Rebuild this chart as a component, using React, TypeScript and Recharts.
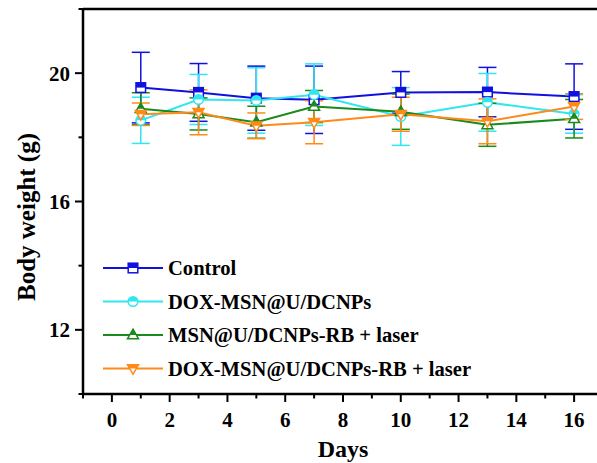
import { LineChart, Line, XAxis, YAxis, ErrorBar, ReferenceLine, Legend } from 'recharts'

const days = [1, 3, 5, 7, 10, 13, 16]

const control = [19.55, 19.4, 19.22, 19.17, 19.4, 19.41, 19.27]
const controlErr = [1.1, 0.9, 1.0, 1.05, 0.65, 0.77, 1.02]
const doxMsn = [18.53, 19.18, 19.15, 19.33, 18.65, 19.09, 18.73]
const doxMsnErr = [0.72, 0.78, 1.02, 0.96, 0.9, 0.9, 0.6]
const msnRb = [18.89, 18.73, 18.47, 18.96, 18.8, 18.39, 18.58]
const msnRbErr = [0.5, 0.5, 0.5, 0.5, 0.55, 0.67, 0.6]
const doxRb = [18.72, 18.78, 18.36, 18.47, 18.72, 18.5, 18.96]
const doxRbErr = [0.35, 0.7, 0.4, 0.67, 0.53, 0.7, 0.4]

const xTicks = [-1, 0, 1, 2, 3, 4, 5, 6, 7, 8, 9, 10, 11, 12, 13, 14, 15, 16, 17]
const yTicks = [10, 12, 14, 16, 18, 20, 22]

type Shape = 'square' | 'circle' | 'triUp' | 'triDown'

const series: { key: string; name: string; color: string; shape: Shape }[] = [
  { key: 'control', name: 'Control', color: '#1010E0', shape: 'square' },
  { key: 'doxMsn', name: 'DOX-MSN@U/DCNPs', color: '#30E6F0', shape: 'circle' },
  { key: 'msnRb', name: 'MSN@U/DCNPs-RB + laser', color: '#1A8A1A', shape: 'triUp' },
  { key: 'doxRb', name: 'DOX-MSN@U/DCNPs-RB + laser', color: '#FF8A1A', shape: 'triDown' },
]

const rows = days.map((d, i) => ({
  day: d,
  control: control[i],
  controlErr: controlErr[i],
  doxMsn: doxMsn[i],
  doxMsnErr: doxMsnErr[i],
  msnRb: msnRb[i],
  msnRbErr: msnRbErr[i],
  doxRb: doxRb[i],
  doxRbErr: doxRbErr[i],
}))

const FONT = '"Liberation Serif", "Times New Roman", serif'

// half-filled markers: white body, upper half in the series colour
function Marker({ cx, cy, color, shape }: { cx: number; cy: number; color: string; shape: Shape }) {
  const s = 4.8
  if (shape === 'square') {
    return (
      <g>
        <rect x={cx - s} y={cy - s} width={2 * s} height={2 * s} fill="#fff" stroke={color} strokeWidth={1.5} />
        <rect x={cx - s} y={cy - s} width={2 * s} height={s} fill={color} />
      </g>
    )
  }
  if (shape === 'circle') {
    return (
      <g>
        <circle cx={cx} cy={cy} r={s} fill="#fff" stroke={color} strokeWidth={1.5} />
        <path d={`M${cx - s},${cy} A${s},${s} 0 0 1 ${cx + s},${cy} Z`} fill={color} />
      </g>
    )
  }
  const a = s * 1.2
  const b = s * 0.8
  const w = s * 1.15
  if (shape === 'triUp') {
    const k = (w * a) / (a + b)
    return (
      <g>
        <polygon points={`${cx},${cy - a} ${cx + w},${cy + b} ${cx - w},${cy + b}`} fill="#fff" stroke={color} strokeWidth={1.5} />
        <polygon points={`${cx},${cy - a} ${cx + k},${cy} ${cx - k},${cy}`} fill={color} />
      </g>
    )
  }
  // down triangle: base on top, apex below
  const k = (w * a) / (a + b)
  return (
    <g>
      <polygon points={`${cx - w},${cy - b} ${cx + w},${cy - b} ${cx},${cy + a}`} fill="#fff" stroke={color} strokeWidth={1.5} />
      <polygon points={`${cx - w},${cy - b} ${cx + w},${cy - b} ${cx + k},${cy} ${cx - k},${cy}`} fill={color} />
    </g>
  )
}

const XTick = (props: any) => {
  const { x, y, payload } = props
  const v = payload.value as number
  const major = v % 2 === 0
  return (
    <g>
      <line x1={x} x2={x} y1={y} y2={y + (major ? 8 : 4.5)} stroke="#000" strokeWidth={2} />
      {major && v >= 0 && v <= 16 && (
        <text x={x} y={y + 33} textAnchor="middle" fontFamily={FONT} fontWeight="bold" fontSize={21} fill="#000">
          {v}
        </text>
      )}
    </g>
  )
}

const YTick = (props: any) => {
  const { x, y, payload } = props
  const v = payload.value as number
  const major = v % 4 === 0
  return (
    <g>
      <line x1={x - (major ? 8 : 4.5)} x2={x} y1={y} y2={y} stroke="#000" strokeWidth={2} />
      {major && v > 10 && v < 22 && (
        <text x={x - 13} y={y} dy="0.35em" textAnchor="end" fontFamily={FONT} fontWeight="bold" fontSize={21} fill="#000">
          {v}
        </text>
      )}
    </g>
  )
}

const YTitle = () => (
  <text
    x={26}
    y={217}
    transform="rotate(-90, 26, 217)"
    textAnchor="middle"
    dominantBaseline="central"
    fontFamily={FONT}
    fontWeight="bold"
    fontSize={25}
    fill="#000"
  >
    Body weight (g)
  </text>
)

const XTitle = () => (
  <text x={343} y={457} textAnchor="middle" fontFamily={FONT} fontWeight="bold" fontSize={24} fill="#000">
    Days
  </text>
)

const LegendBox = () => (
  <svg width={440} height={135} style={{ display: 'block' }}>
    {series.map((s, i) => {
      const cy = 18 + i * 33.5
      return (
        <g key={s.key}>
          <line x1={3} x2={63} y1={cy} y2={cy} stroke={s.color} strokeWidth={2} />
          <Marker cx={33} cy={cy} color={s.color} shape={s.shape} />
          <text x={68} y={cy} dy="0.35em" fontFamily={FONT} fontWeight="bold" fontSize={20.6} fill="#000">
            {s.name}
          </text>
        </g>
      )
    })}
  </svg>
)

export default function App() {
  return (
    <div style={{ position: 'absolute', left: 0, top: 0, width: 597, height: 463, overflow: 'hidden', background: '#fff' }}>
      <LineChart width={605} height={463} data={rows} margin={{ top: 9, right: 2, left: 0, bottom: 0 }}>
        <XAxis
          type="number"
          dataKey="day"
          domain={[-1, 17]}
          ticks={xTicks}
          interval={0}
          height={69}
          tickSize={0}
          tickMargin={0}
          tick={<XTick />}
          axisLine={{ stroke: '#000', strokeWidth: 2.5 }}
          tickLine={false}
          label={<XTitle />}
        />
        <YAxis
          type="number"
          domain={[10, 22]}
          ticks={yTicks}
          interval={0}
          width={83}
          tickSize={0}
          tickMargin={0}
          tick={<YTick />}
          axisLine={{ stroke: '#000', strokeWidth: 2.5 }}
          tickLine={false}
          label={<YTitle />}
        />
        <ReferenceLine y={22} stroke="#000" strokeWidth={2.5} ifOverflow="visible" />
        <ReferenceLine x={17} stroke="#000" strokeWidth={2.5} ifOverflow="visible" />
        <Legend
          layout="vertical"
          align="center"
          verticalAlign="middle"
          content={<LegendBox />}
          wrapperStyle={{ left: 100, top: 250, width: 440, height: 135 }}
        />
        {series.map((s) => (
          <Line
            key={s.key}
            type="linear"
            dataKey={s.key}
            name={s.name}
            stroke={s.color}
            strokeWidth={2}
            isAnimationActive={false}
            dot={(p: any) => <Marker key={`${s.key}-${p.index}`} cx={p.cx} cy={p.cy} color={s.color} shape={s.shape} />}
            activeDot={false}
          >
            <ErrorBar dataKey={`${s.key}Err`} width={9} stroke={s.color} strokeWidth={1.5} direction="y" isAnimationActive={false} />
          </Line>
        ))}
      </LineChart>
    </div>
  )
}
